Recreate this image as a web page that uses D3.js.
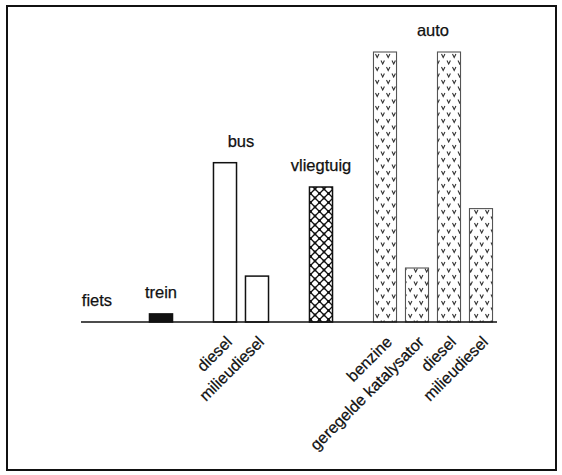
<!DOCTYPE html>
<html>
<head>
<meta charset="utf-8">
<script src="https://cdn.jsdelivr.net/npm/d3@7"></script>
<style>
  body { margin: 0; background: #fff; }
  text { font-family: "Liberation Sans", Arial, Helvetica, sans-serif; fill: #111; stroke: #111; stroke-width: 0.25; }
</style>
</head>
<body>
<svg width="562" height="475"></svg>
<script>
// slots along the baseline (spacers keep the gaps between the groups)
const slots = ["fiets", "_1", "trein", "_2", "bus-diesel", "bus-milieudiesel", "_3",
  "vliegtuig", "_4", "auto-benzine", "auto-katalysator", "auto-diesel", "auto-milieudiesel"];

const barKeys = ["fiets", "trein", "bus-diesel", "bus-milieudiesel", "vliegtuig",
  "auto-benzine", "auto-katalysator", "auto-diesel", "auto-milieudiesel"];
const barValues = [0, 3, 59, 17, 50, 100, 20, 100, 42];
const barGroups = ["fiets", "trein", "bus", "bus", "vliegtuig", "auto", "auto", "auto", "auto"];
const barLabels = ["", "", "diesel", "milieudiesel", "", "benzine", "geregelde katalysator", "diesel", "milieudiesel"];

const groups = ["fiets", "trein", "bus", "vliegtuig", "auto"];

const bars = barKeys.map((k, i) => ({ key: k, value: barValues[i], group: barGroups[i], label: barLabels[i] }));

const svg = d3.select("svg");

// frame
svg.append("rect")
  .attr("x", 7).attr("y", 6).attr("width", 549).attr("height", 464)
  .attr("fill", "none").attr("stroke", "#111").attr("stroke-width", 2);

const x = d3.scaleBand().domain(slots).range([81, 497]).paddingInner(0.28).paddingOuter(0.14);
const y = d3.scaleLinear().domain([0, 100]).range([322, 52]);

// patterns
const defs = svg.append("defs");

const cross = defs.append("pattern").attr("id", "cross")
  .attr("patternUnits", "userSpaceOnUse").attr("width", 9).attr("height", 9);
cross.append("rect").attr("width", 9).attr("height", 9).attr("fill", "#fff");
cross.append("path").attr("d", "M0,0L9,9M9,0L0,9").attr("stroke", "#111").attr("stroke-width", 1.3);
cross.selectAll("circle").data([[4.5, 4.5], [0, 0], [9, 0], [0, 9], [9, 9]]).enter().append("circle")
  .attr("cx", d => d[0]).attr("cy", d => d[1]).attr("r", 1.4).attr("fill", "#111");

const vee = defs.append("pattern").attr("id", "vee")
  .attr("patternUnits", "userSpaceOnUse").attr("width", 11).attr("height", 13);
vee.append("rect").attr("width", 11).attr("height", 13).attr("fill", "#fff");
vee.append("path").attr("d", "M1.5,2L3.2,5.5L4.9,2M7,8.5L8.7,12L10.4,8.5")
  .attr("fill", "none").attr("stroke", "#333").attr("stroke-width", 1.1);

function fillFor(d) {
  if (d.group === "trein") return "#111";
  if (d.group === "bus") return "#fff";
  if (d.group === "vliegtuig") return "url(#cross)";
  if (d.group === "auto") return "url(#vee)";
  return "none";
}

svg.append("g").selectAll("rect")
  .data(bars.filter(d => d.value > 0))
  .enter().append("rect")
  .attr("x", d => x(d.key))
  .attr("y", d => y(d.value))
  .attr("width", x.bandwidth())
  .attr("height", d => y(0) - y(d.value))
  .attr("fill", fillFor)
  .attr("stroke", d => d.group === "auto" ? "#555" : "#111")
  .attr("stroke-width", d => d.group === "auto" ? 1.1 : 1.5);

// baseline
svg.append("line")
  .attr("x1", x.range()[0]).attr("x2", x.range()[1])
  .attr("y1", y(0)).attr("y2", y(0))
  .attr("stroke", "#111").attr("stroke-width", 1.7);

// group labels above the tallest bar of each group
svg.append("g").selectAll("text")
  .data(groups)
  .enter().append("text")
  .attr("x", g => {
    const members = bars.filter(b => b.group === g);
    const first = x(members[0].key), last = x(members[members.length - 1].key) + x.bandwidth();
    return (first + last) / 2;
  })
  .attr("y", g => y(d3.max(bars.filter(b => b.group === g), b => b.value)) - 16)
  .attr("text-anchor", "middle")
  .attr("font-size", 16.5)
  .text(g => g);

// rotated labels below the baseline
svg.append("g").selectAll("text")
  .data(bars.filter(d => d.label))
  .enter().append("text")
  .attr("transform", d => `translate(${x(d.key) + x.bandwidth() / 2 + 8},${y(0) + 21}) rotate(-45)`)
  .attr("text-anchor", "end")
  .attr("font-size", 16)
  .text(d => d.label);
</script>
</body>
</html>
